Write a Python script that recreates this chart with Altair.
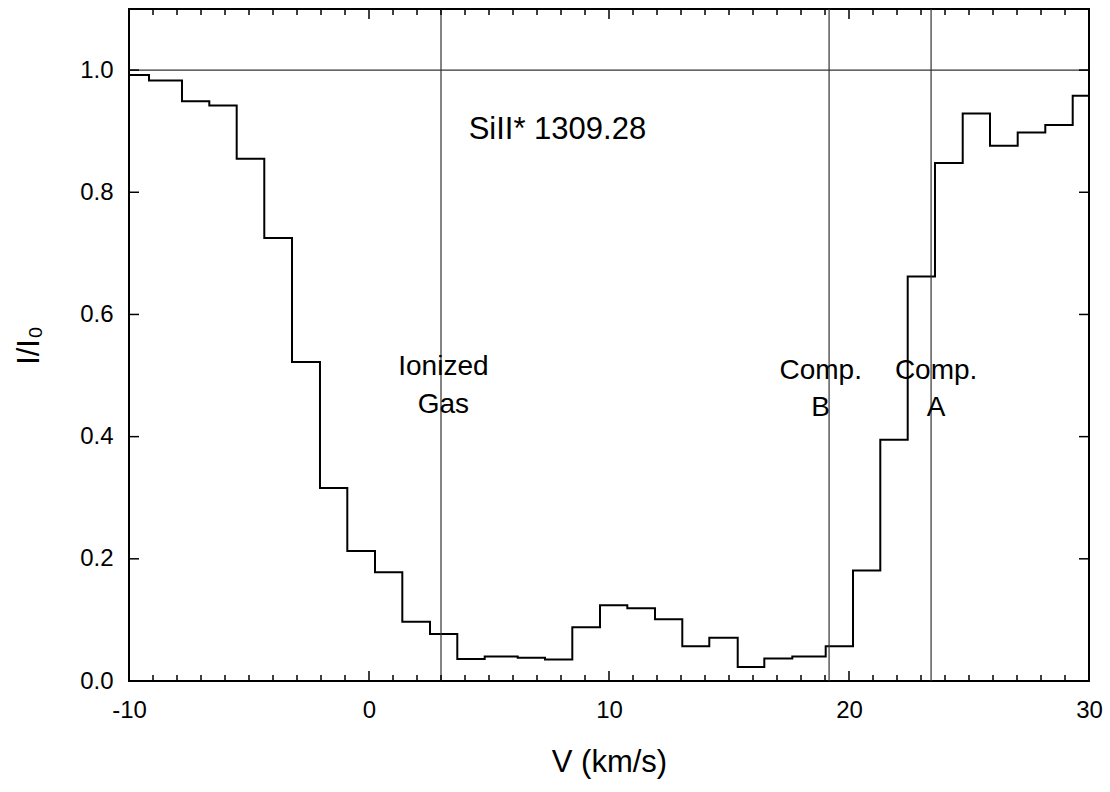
import altair as alt
import pandas as pd

# Step profile: left bin edges (km/s) and normalized intensity
edges = [-10.0, -9.167, -7.792, -6.654, -5.513, -4.363, -3.208, -2.042, -0.904, 0.25,
         1.388, 2.542, 3.679, 4.821, 6.196, 7.333, 8.471, 9.625, 10.763, 11.917,
         13.054, 14.179, 15.363, 16.471, 17.638, 19.029, 20.167, 21.304, 22.446, 23.583,
         24.738, 25.875, 27.029, 28.179, 29.321]
flux = [0.992, 0.983, 0.949, 0.942, 0.855, 0.725, 0.522, 0.316, 0.213, 0.178,
        0.097, 0.077, 0.036, 0.040, 0.038, 0.035, 0.088, 0.124, 0.119, 0.101,
        0.057, 0.071, 0.023, 0.037, 0.040, 0.057, 0.181, 0.395, 0.662, 0.848,
        0.929, 0.876, 0.898, 0.910, 0.958]
v_end = 30.0

# Reference markers
vlines = [3.0, 19.17, 23.42]
hline = [1.0]

# Annotation labels
label_text = ["SiII* 1309.28", "Ionized", "Gas", "Comp.", "B", "Comp.", "A"]
label_x = [7.85, 3.10, 3.10, 18.82, 18.82, 23.63, 23.63]
label_y = [0.888, 0.501, 0.439, 0.494, 0.434, 0.494, 0.434]
label_size = [31, 28, 28, 28, 28, 28, 28]

# Axis ticks
x_major = [-10, 0, 10, 20, 30]
x_minor = [v for v in range(-9, 30) if v % 10 != 0]
y_major = [0.0, 0.2, 0.4, 0.6, 0.8, 1.0]

W, H = 960, 672
FONT = "Liberation Sans"

xs = alt.Scale(domain=[-10, 30], nice=False, zero=False)
ys = alt.Scale(domain=[0, 1.1], nice=False, zero=False)

step_df = pd.DataFrame({"v": edges + [v_end], "f": flux + [flux[-1]]})

base_x = alt.X("v:Q", scale=xs,
               axis=alt.Axis(values=x_major, labelExpr="'' + datum.value", labelFlush=False,
                             ticks=False, domain=False, grid=False,
                             labelFontSize=24, labelFont=FONT, labelPadding=17, labelColor="black",
                             title="V (km/s)", titleFont=FONT, titleFontSize=31,
                             titleFontWeight="normal", titleColor="black",
                             titleBaseline="alphabetic", titleY=90))
base_y = alt.Y("f:Q", scale=ys,
               axis=alt.Axis(values=y_major, format=".1f", labelFlush=False,
                             ticks=False, domain=False, grid=False,
                             labelFontSize=24, labelFont=FONT, labelPadding=16, labelColor="black",
                             title="I/I₀", titleFont=FONT, titleFontSize=31,
                             titleFontWeight="normal", titleColor="black",
                             titleBaseline="alphabetic", titleX=-91, titleAngle=270))

step = alt.Chart(step_df).mark_line(interpolate="step-after", color="black", strokeWidth=2).encode(
    x=base_x, y=base_y)

vrule = alt.Chart(pd.DataFrame({"v": vlines})).mark_rule(color="#333333", strokeWidth=1.2).encode(
    x=alt.X("v:Q", scale=xs))
hrule = alt.Chart(pd.DataFrame({"f": hline})).mark_rule(color="#333333", strokeWidth=1.2).encode(
    y=alt.Y("f:Q", scale=ys))

lab_df = pd.DataFrame({"t": label_text, "v": label_x, "f": label_y, "s": label_size})
labels = alt.Chart(lab_df).mark_text(font=FONT, align="center", baseline="alphabetic",
                                     color="black").encode(
    x=alt.X("v:Q", scale=xs), y=alt.Y("f:Q", scale=ys), text="t:N",
    size=alt.Size("s:Q", scale=None, legend=None))

xmaj_df = pd.DataFrame({"v": x_major})
xmin_df = pd.DataFrame({"v": x_minor})
ymaj_df = pd.DataFrame({"f": y_major})
tk = dict(color="black", strokeWidth=1.5)

t1 = alt.Chart(xmaj_df).mark_rule(**tk).encode(x=alt.X("v:Q", scale=xs), y=alt.value(H), y2=alt.value(H - 10))
t2 = alt.Chart(xmaj_df).mark_rule(**tk).encode(x=alt.X("v:Q", scale=xs), y=alt.value(0), y2=alt.value(10))
t3 = alt.Chart(xmin_df).mark_rule(**tk).encode(x=alt.X("v:Q", scale=xs), y=alt.value(H), y2=alt.value(H - 6))
t4 = alt.Chart(xmin_df).mark_rule(**tk).encode(x=alt.X("v:Q", scale=xs), y=alt.value(0), y2=alt.value(6))
t5 = alt.Chart(ymaj_df).mark_rule(**tk).encode(y=alt.Y("f:Q", scale=ys), x=alt.value(0), x2=alt.value(10))
t6 = alt.Chart(ymaj_df).mark_rule(**tk).encode(y=alt.Y("f:Q", scale=ys), x=alt.value(W), x2=alt.value(W - 10))

chart = alt.layer(step, hrule, vrule, labels, t1, t2, t3, t4, t5, t6).properties(
    width=W, height=H,
    autosize=alt.AutoSizeParams(type="none"),
    padding={"left": 129, "top": 9, "right": 21, "bottom": 111},
    background="white",
).configure_view(stroke="black", strokeWidth=2)

chart.save("out.html", embed_options={"renderer": "svg", "actions": False})
